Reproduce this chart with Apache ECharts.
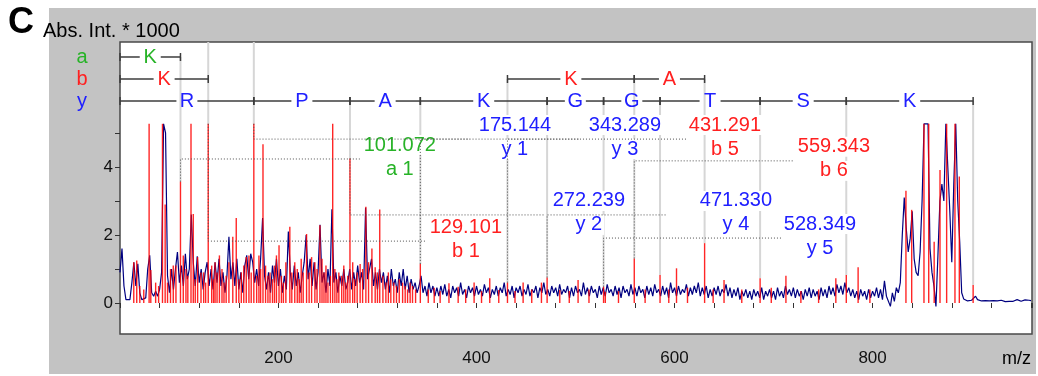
<!DOCTYPE html>
<html>
<head>
<meta charset="utf-8">
<script src="https://cdn.jsdelivr.net/npm/echarts@6/dist/echarts.min.js"></script>
<style>
html, body { margin: 0; padding: 0; background: #fff; }
#chart { width: 1038px; height: 376px; }
</style>
</head>
<body>
<div id="chart"></div>
<script>
// profile trace (blue), one value every 2 m/z from 40
var blueStart = 40, blueStep = 2;
var blueInt = [
  0.9, 1.6, 0.5, 0.1, 0.05, 0.1, 0.6, 1.2, 0.5, 1.15,      // 40
  0.3, 0.1, 0.05, 0.15, 1.0, 1.4, 0.3, 0.2, 0.35, 0.2,     // 60
  0.4, 0.9, 5.27, 5.0, 0.8, 0.3, 1.0, 0.4, 1.0, 1.5,       // 80
  0.6, 1.1, 0.5, 1.45, 0.7, 1.0, 2.6, 1.2, 0.5, 1.37,      // 100
  0.6, 1.0, 0.4, 0.9, 1.2, 0.5, 1.0, 0.4, 1.2, 0.6,        // 120
  1.3, 0.5, 0.9, 0.3, 0.8, 1.95, 0.7, 1.2, 0.5, 1.3,       // 140
  0.4, 0.9, 0.3, 1.1, 1.4, 0.7, 1.45, 1.2, 0.6, 1.0,       // 160
  0.5, 1.3, 2.5, 0.8, 0.4, 0.9, 0.3, 1.1, 0.6, 1.3,        // 180
  0.5, 1.0, 0.3, 0.8, 0.4, 2.1, 0.9, 0.4, 1.1, 0.5,        // 200
  0.9, 0.3, 0.8, 1.2, 2.0, 0.7, 1.3, 0.5, 1.2, 0.4,        // 220
  0.9, 2.3, 0.6, 0.9, 0.3, 1.0, 0.5, 2.76, 0.6, 0.9,       // 240
  0.3, 0.8, 0.5, 1.0, 0.4, 0.6, 1.0, 0.4, 0.9, 0.5,        // 260
  1.1, 0.6, 0.9, 0.4, 2.8, 0.7, 1.0, 1.3, 0.5, 0.9,        // 280
  0.4, 1.0, 0.6, 0.9, 0.4, 0.8, 0.3, 1.0, 0.5, 0.7,        // 300
  0.3, 0.9, 0.5, 1.0, 0.4, 0.8, 0.3, 0.7, 0.4, 0.6,        // 320
  0.3, 0.5, 0.8, 0.3, 0.5, 0.2, 0.6, 0.3, 0.5, 0.2,        // 340
  0.45, 0.2, 0.5, 0.25, 0.55, 0.2, 0.4, 0.15, 0.5, 0.3,    // 360
  0.45, 0.2, 0.6, 0.25, 0.4, 0.15, 0.5, 0.3, 0.45, 0.2,    // 380
  0.5, 0.25, 0.4, 0.2, 0.55, 0.3, 0.45, 0.15, 0.4, 0.25,   // 400
  0.5, 0.2, 0.45, 0.3, 0.6, 0.2, 0.4, 0.25, 0.5, 0.15,     // 420
  0.45, 0.3, 0.5, 0.2, 0.4, 0.25, 0.55, 0.2, 0.4, 0.3,     // 440
  0.5, 0.15, 0.45, 0.3, 0.6, 0.25, 0.4, 0.2, 0.5, 0.3,     // 460
  0.45, 0.2, 0.55, 0.25, 0.4, 0.3, 0.5, 0.15, 0.45, 0.2,   // 480
  0.5, 0.3, 0.4, 0.2, 0.6, 0.25, 0.45, 0.2, 0.5, 0.3,      // 500
  0.4, 0.15, 0.5, 0.25, 0.45, 0.2, 0.55, 0.3, 0.4, 0.2,    // 520
  0.5, 0.25, 0.45, 0.15, 0.5, 0.3, 0.4, 0.2, 0.55, 0.25,   // 540
  0.45, 0.2, 0.5, 0.3, 0.4, 0.15, 0.5, 0.25, 0.45, 0.2,    // 560
  0.55, 0.3, 0.4, 0.2, 0.5, 0.25, 0.45, 0.15, 0.6, 0.3,    // 580
  0.45, 0.2, 0.5, 0.25, 0.4, 0.3, 0.55, 0.2, 0.45, 0.25,   // 600
  0.5, 0.3, 0.6, 0.2, 0.45, 0.25, 0.5, 0.15, 0.4, 0.2,     // 620
  0.45, 0.25, 0.5, 0.2, 0.4, 0.3, 0.55, 0.2, 0.45, 0.15,   // 640
  0.4, 0.2, 0.45, 0.1, 0.35, 0.2, 0.4, 0.15, 0.35, 0.1,    // 660
  0.4, 0.2, 0.35, 0.15, 0.45, 0.1, 0.35, 0.2, 0.4, 0.15,   // 680
  0.35, 0.1, 0.45, 0.2, 0.35, 0.15, 0.5, 0.25, 0.4, 0.2,   // 700
  0.45, 0.15, 0.4, 0.2, 0.35, 0.1, 0.4, 0.2, 0.45, 0.15,   // 720
  0.4, 0.2, 0.35, 0.1, 0.45, 0.2, 0.4, 0.15, 0.5, 0.25,    // 740
  0.45, 0.2, 0.55, 0.3, 0.5, 0.25, 0.6, 0.3, 0.45, 0.2,    // 760
  0.4, 0.15, 0.35, 0.1, 0.4, 0.2, 0.35, 0.1, 0.4, 0.15,    // 780
  0.35, 0.2, 0.45, 0.15, 0.4, 0.1, 0.65, 0.2,              // 800
  0.15, -0.1, 0.3, 0.05, 0.45, 0.3, 0.6, 2.0, 3.1, 2.2,    // 816
  1.5, 1.9, 2.7, 1.3, 0.9, 0.8, 1.5, 3.0, 5.27, 5.27,      // 836
  5.27, 1.6, 0.9, 0.5, -0.1, 1.4, 3.0, 3.5, 3.0, 5.27,     // 856
  5.27, 2.7, 1.2, 3.5, 5.27, 3.0, 1.8, 0.3, 0.12, 0.08,    // 876
  0.06, 0.05,                                              // 896
  0.08, 0.1, 0.2, 0.1, 0.05, 0.06, 0.04, 0.07, 0.05, 0.06, // 900
  0.05, 0.07, 0.04, 0.06, 0.05, 0.08, 0.06, 0.04, 0.07, 0.05, // 920
  0.06, 0.05, 0.08, 0.1, 0.06, 0.05, 0.07, 0.09, 0.06, 0.08,  // 940
  0.07                                                     // 960
];

// centroid peaks (red sticks)
var stickMz = [
  53.9, 56.9, 69.4, 71.1, 82.9, 85.6, 93.8, 96.5, 101.072, 103.9,
  106.6, 111.7, 114, 118.4, 121.8, 129.101, 132.6, 136, 140.4, 147.2,
  153.9, 157.4, 162.5, 167.5, 170.2, 175.144, 180.3, 184.4, 189.4, 194,
  198, 200.6, 205, 211.5, 216.5, 221, 225, 228.4, 233.5, 236.8,
  241.9, 246, 250, 254.8, 259, 263.9, 268, 272.239, 277, 282.5,
  288.3, 294.4, 297.7, 302.3, 308.5, 313.5, 319.2, 325.4, 330.4, 335.4,
  343.289, 351.3, 357.3, 363.3, 372.2, 381.5, 389.1, 397.6, 405.1, 413.4,
  422.5, 431.291, 438.9, 447.1, 455.8, 465.6, 471.330, 484.1, 493.7, 502.6,
  513.6, 528.349, 530.1, 543.4, 559.343, 570.3, 585.37, 594.2, 602, 613.1,
  630.38, 639, 650, 667.9, 686.42, 697.7, 712.5, 727.6, 745.5, 762.9,
  773.45, 785.4, 797.3, 833.7, 839.5, 851.9, 856.7, 862.2, 868.1, 874.8,
  883.2, 887.6, 901.55
];
var stickInt = [
  1.2, 1.25, 5.27, 0.97, 5.27, 2.9, 1.1, 1.1, 3.57, 1.4,
  1.0, 5.27, 2.62, 1.35, 0.9, 5.27, 1.1, 1.2, 1.4, 0.8,
  1.95, 2.5, 0.9, 1.35, 1.4, 5.27, 1.4, 4.67, 0.8, 0.7,
  1.4, 1.7, 0.6, 2.24, 1.2, 0.7, 0.9, 2.03, 1.35, 1.2,
  2.29, 0.9, 0.6, 5.27, 0.7, 0.8, 0.6, 4.25, 0.7, 1.15,
  2.83, 1.6, 1.05, 2.75, 0.6, 0.7, 0.5, 0.6, 0.4, 0.5,
  1.15, 0.4, 0.45, 0.35, 0.58, 0.48, 0.4, 0.6, 0.35, 0.73,
  0.38, 0.6, 0.35, 0.6, 0.4, 0.6, 0.75, 0.38, 0.35, 0.68,
  0.4, 0.48, 0.33, 0.35, 1.31, 0.4, 0.82, 0.4, 1.02, 0.45,
  1.76, 0.4, 0.68, 0.4, 0.73, 0.45, 0.8, 0.35, 0.4, 0.73,
  0.82, 1.05, 0.4, 3.3, 2.74, 5.27, 5.27, 1.8, 3.91, 5.27,
  5.27, 3.72, 0.53
];
// smaller centroids in the crowded low-mass region
var minorMz = [
  60, 64, 76, 79, 88, 91, 108.5, 116, 124.5, 126.5,
  134.5, 138, 143, 145, 150, 160, 165, 172.5, 178, 182,
  187, 191.5, 196, 203, 207.5, 213.5, 219, 223, 231, 239,
  244, 248, 252.5, 257, 261, 266, 270, 275, 279.5, 285,
  291, 300, 305.5, 311, 316.5, 322, 328, 333, 338.5
];
var minorInt = [
  0.5, 0.4, 0.6, 0.5, 0.6, 1.0, 0.8, 0.7, 0.9, 0.6,
  0.7, 0.9, 1.0, 0.6, 1.2, 0.7, 1.1, 0.9, 0.8, 1.0,
  1.1, 0.9, 1.1, 0.8, 1.2, 0.9, 1.0, 1.3, 0.9, 1.0,
  1.3, 1.1, 0.8, 1.0, 0.9, 1.1, 0.8, 1.2, 0.9, 1.0,
  1.2, 0.9, 0.8, 0.9, 0.6, 0.7, 0.5, 0.6, 0.4
];

// fragment ladders
var aSeg = [[40, 101.072, 'K']];
var bSeg = [[40, 129.101, 'K'], [431.291, 559.343, 'K'], [559.343, 630.38, 'A']];
var yIons = [175.144, 272.239, 343.289, 471.330, 528.349, 585.37, 686.42, 773.45, 901.55];
var yRes = ['R', 'P', 'A', 'K', 'G', 'G', 'T', 'S', 'K'];

// labelled peaks
var annMz   = [101.072, 129.101, 175.144, 272.239, 343.289, 431.291, 471.330, 528.349, 559.343];
var annText = ['101.072', '129.101', '175.144', '272.239', '343.289', '431.291', '471.330', '528.349', '559.343'];
var annName = ['a 1', 'b 1', 'y 1', 'y 2', 'y 3', 'b 5', 'y 4', 'y 5', 'b 6'];
// leader level / leader end / label centre
var annLevel  = [4.235, 1.82, 4.82, 2.59, 4.82, 4.82, 2.59, 1.91, 4.18];
var annEnd    = [282.2, 349.9, 393.3, 469.1, 504.4, 612.5, 592.3, 708.5, 719.6];
var annLabelX = [322.6, 389.3, 438.8, 513.5, 549.9, 650.9, 662.0, 746.9, 761.0];

// light guide lines from ladder rows down to the peaks
var guideMz  = [101.072, 129.101, 175.144, 272.239, 343.289, 431.291, 471.330, 528.349, 559.343, 585.37, 630.38, 686.42, 773.45, 901.55];
var guideRow = ['a', 'top', 'top', 'y', 'y', 'b', 'y', 'y', 'b', 'y', 'b', 'y', 'y', 'y'];

var FONT = '"Liberation Sans", Arial, sans-serif';
var ionColor = { a: '#27b327', b: '#ff2020', y: '#2020ff' };
var rowLevel = { a: 7.235, b: 6.588, y: 5.94, top: 7.676 };

function stickAt(mz) {
    var best = 0, bd = 1e9;
    for (var i = 0; i < stickMz.length; i++) {
        var d = Math.abs(stickMz[i] - mz);
        if (d < bd) { bd = d; best = i; }
    }
    return stickInt[best];
}

var blueData = blueInt.map(function (v, i) { return [blueStart + i * blueStep, v]; });
var stickData = stickMz.map(function (m, i) { return [m, stickInt[i]]; });
minorMz.forEach(function (m, i) { stickData.push([m, minorInt[i]]); });

var ladder = [];
aSeg.forEach(function (s) { ladder.push([s[0], s[1], rowLevel.a, s[2], 'a']); });
bSeg.forEach(function (s) { ladder.push([s[0], s[1], rowLevel.b, s[2], 'b']); });
var prev = 40;
yIons.forEach(function (m, i) { ladder.push([prev, m, rowLevel.y, yRes[i], 'y']); prev = m; });

var guideData = guideMz.map(function (m, i) { return [m, rowLevel[guideRow[i]], stickAt(m)]; });
var leaderData = annMz.map(function (m, i) { return [m, stickAt(m), annLevel[i], annEnd[i]]; });
var labelData = annLabelX.map(function (x, i) { return [x, annLevel[i]]; });

var chart = echarts.init(document.getElementById('chart'));

var option = {
    animation: false,
    graphic: [
        { type: 'rect', z: -10, shape: { x: 49, y: 8, width: 987, height: 366 }, style: { fill: '#c3c3c3' } },
        { type: 'text', x: 8, y: 5, style: { text: 'C', font: 'bold 36px ' + FONT, fill: '#000' } },
        { type: 'text', x: 43, y: 21, style: { text: 'Abs. Int. * 1000', font: '20px ' + FONT, fill: '#000' } },
        { type: 'text', x: 1002, y: 350, style: { text: 'm/z', font: '18px ' + FONT, fill: '#000' } }
    ],
    grid: {
        left: 120, right: 6, top: 42, bottom: 42,
        show: true, backgroundColor: '#fff', borderColor: '#4a4a4a', borderWidth: 1.5
    },
    xAxis: {
        type: 'value', min: 40, max: 961, interval: 40, offset: 3,
        axisLine: { show: false },
        axisTick: { show: true, length: 5, lineStyle: { color: '#333' } },
        splitLine: { show: false },
        axisLabel: {
            margin: 13, fontSize: 17, color: '#111', fontFamily: FONT,
            formatter: function (v) { return v % 200 === 0 ? String(v) : ''; }
        }
    },
    yAxis: {
        type: 'value', min: -0.9118, max: 7.676,
        axisLine: { show: false },
        splitLine: { show: false },
        axisTick: { show: true, length: 5, customValues: [0, 1, 2, 3, 4, 5], lineStyle: { color: '#333' } },
        axisLabel: { customValues: [0, 2, 4], margin: 7, fontSize: 17, color: '#111', fontFamily: FONT }
    },
    series: [
        {
            type: 'custom', name: 'guides', z: 1, silent: true,
            encode: { x: 0, y: [1, 2] },
            data: guideData,
            renderItem: function (params, api) {
                var p1 = api.coord([api.value(0), api.value(1)]);
                var p2 = api.coord([api.value(0), api.value(2)]);
                return { type: 'line', shape: { x1: p1[0], y1: p1[1], x2: p2[0], y2: p2[1] },
                         style: { stroke: '#d6d6d6', lineWidth: 2 } };
            }
        },
        {
            type: 'custom', name: 'labels', z: 2, silent: true,
            encode: { x: 0, y: 1 },
            data: labelData,
            renderItem: function (params, api) {
                var i = params.dataIndex;
                var p = api.coord([api.value(0), api.value(1)]);
                var col = ionColor[annName[i].charAt(0)];
                return { type: 'group', children: [
                    { type: 'text', x: p[0], y: p[1] - 14, style: { text: annText[i], fill: col, font: '20px ' + FONT,
                      align: 'center', verticalAlign: 'middle', backgroundColor: '#fff', padding: [0, 2] } },
                    { type: 'text', x: p[0], y: p[1] + 10, style: { text: annName[i], fill: col, font: '20px ' + FONT,
                      align: 'center', verticalAlign: 'middle', backgroundColor: '#fff', padding: [0, 2] } }
                ] };
            }
        },
        {
            type: 'line', name: 'profile', z: 3, silent: true,
            data: blueData, showSymbol: false, symbol: 'none',
            lineStyle: { color: '#000080', width: 1.2 }
        },
        {
            type: 'custom', name: 'peaks', z: 4, silent: true,
            encode: { x: 0, y: 1 },
            data: stickData,
            renderItem: function (params, api) {
                var p0 = api.coord([api.value(0), 0]);
                var p1 = api.coord([api.value(0), api.value(1)]);
                return { type: 'line', shape: { x1: p0[0], y1: p0[1], x2: p1[0], y2: p1[1] },
                         style: { stroke: '#ff0000', lineWidth: 1.4, opacity: 0.85 } };
            }
        },
        {
            type: 'custom', name: 'leaders', z: 5, silent: true,
            encode: { x: [0, 3], y: [1, 2] },
            data: leaderData,
            renderItem: function (params, api) {
                var m = api.value(0), top = api.value(1), lev = api.value(2), end = api.value(3);
                var a = api.coord([m, top]), b = api.coord([m, lev]), c = api.coord([end, lev]);
                return { type: 'polyline', shape: { points: [a, b, c] },
                         style: { stroke: '#505050', lineWidth: 1, lineDash: [1, 2], fill: null } };
            }
        },
        {
            type: 'custom', name: 'ladder', z: 6, silent: true,
            encode: { x: [0, 1], y: 2 },
            data: ladder.map(function (s) { return [s[0], s[1], s[2]]; }),
            renderItem: function (params, api) {
                var s = ladder[params.dataIndex];
                var p1 = api.coord([api.value(0), api.value(2)]);
                var p2 = api.coord([api.value(1), api.value(2)]);
                var y = p1[1], mid = (p1[0] + p2[0]) / 2, half = 10.5;
                var st = { stroke: '#3c3c3c', lineWidth: 1.5 };
                return { type: 'group', children: [
                    { type: 'line', shape: { x1: p1[0], y1: y, x2: mid - half, y2: y }, style: st },
                    { type: 'line', shape: { x1: mid + half, y1: y, x2: p2[0], y2: y }, style: st },
                    { type: 'line', shape: { x1: p1[0], y1: y - 4, x2: p1[0], y2: y + 4 }, style: st },
                    { type: 'line', shape: { x1: p2[0], y1: y - 4, x2: p2[0], y2: y + 4 }, style: st },
                    { type: 'text', x: mid, y: y, style: { text: s[3], fill: ionColor[s[4]], font: '20px ' + FONT,
                      align: 'center', verticalAlign: 'middle' } }
                ] };
            }
        },
        {
            type: 'custom', name: 'rowNames', z: 6, silent: true, clip: false,
            encode: { x: 0, y: 1 },
            data: [[40, rowLevel.a], [40, rowLevel.b], [40, rowLevel.y]],
            renderItem: function (params, api) {
                var p = api.coord([api.value(0), api.value(1)]);
                var n = ['a', 'b', 'y'][params.dataIndex];
                return { type: 'text', x: p[0] - 38, y: p[1], style: { text: n, fill: ionColor[n], font: '20px ' + FONT,
                         align: 'center', verticalAlign: 'middle' } };
            }
        }
    ]
};
chart.setOption(option, true);
</script>
</body>
</html>
